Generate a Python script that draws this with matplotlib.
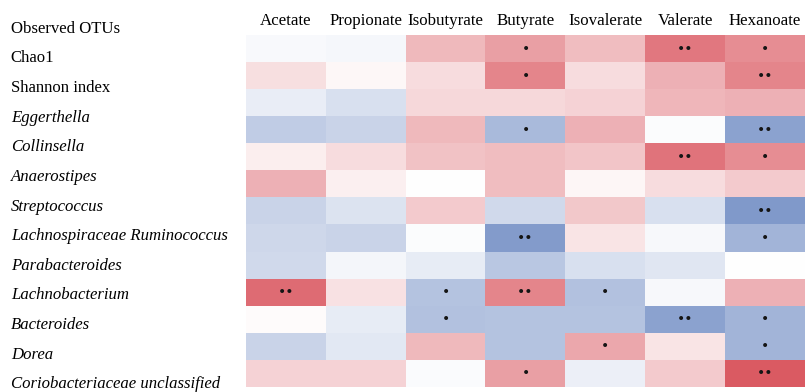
import numpy as np
import matplotlib
matplotlib.use("Agg")
import matplotlib.pyplot as plt
from matplotlib.colors import LinearSegmentedColormap

# acids across the top, OTU / taxa down the side
acids = ['Acetate', 'Propionate', 'Isobutyrate', 'Butyrate', 'Isovalerate', 'Valerate', 'Hexanoate']
taxa = ['Observed OTUs', 'Chao1', 'Shannon index', 'Eggerthella', 'Collinsella', 'Anaerostipes',
        'Streptococcus', 'Lachnospiraceae Ruminococcus', 'Parabacteroides', 'Lachnobacterium',
        'Bacteroides', 'Dorea', 'Coriobacteriaceae unclassified']
italic_rows = taxa[3:]

# correlation estimates, one list per row
r_observed = [-0.04, -0.06, 0.40, 0.55, 0.38, 0.78, 0.65]
r_chao1 = [0.18, 0.04, 0.20, 0.70, 0.20, 0.45, 0.70]
r_shannon = [-0.14, -0.25, 0.22, 0.22, 0.25, 0.42, 0.45]
r_egger = [-0.40, -0.35, 0.40, -0.55, 0.45, -0.02, -0.75]
r_collin = [0.10, 0.20, 0.35, 0.38, 0.33, 0.80, 0.65]
r_anaero = [0.45, 0.09, 0.00, 0.38, 0.05, 0.20, 0.30]
r_strepto = [-0.35, -0.22, 0.30, -0.30, 0.32, -0.25, -0.82]
r_lachno_rum = [-0.32, -0.35, -0.02, -0.80, 0.15, -0.05, -0.60]
r_parabac = [-0.30, -0.07, -0.15, -0.45, -0.25, -0.20, 0.00]
r_lachnobac = [0.85, 0.17, -0.48, 0.70, -0.50, -0.05, 0.45]
r_bacter = [0.02, -0.15, -0.50, -0.48, -0.48, -0.75, -0.60]
r_dorea = [-0.35, -0.18, 0.40, -0.48, 0.50, 0.15, -0.60]
r_corio = [0.25, 0.25, -0.03, 0.55, -0.12, 0.30, 0.95]

sig_observed = ['', '', '', '*', '', '**', '*']
sig_chao1 = ['', '', '', '*', '', '', '**']
sig_shannon = ['', '', '', '', '', '', '']
sig_egger = ['', '', '', '*', '', '', '**']
sig_collin = ['', '', '', '', '', '**', '*']
sig_anaero = ['', '', '', '', '', '', '']
sig_strepto = ['', '', '', '', '', '', '**']
sig_lachno_rum = ['', '', '', '**', '', '', '*']
sig_parabac = ['', '', '', '', '', '', '']
sig_lachnobac = ['**', '', '*', '**', '*', '', '']
sig_bacter = ['', '', '*', '', '', '**', '*']
sig_dorea = ['', '', '', '', '*', '', '*']
sig_corio = ['', '', '', '*', '', '', '**']

values = np.array([r_observed, r_chao1, r_shannon, r_egger, r_collin, r_anaero, r_strepto,
                   r_lachno_rum, r_parabac, r_lachnobac, r_bacter, r_dorea, r_corio])
stars = [sig_observed, sig_chao1, sig_shannon, sig_egger, sig_collin, sig_anaero, sig_strepto,
         sig_lachno_rum, sig_parabac, sig_lachnobac, sig_bacter, sig_dorea, sig_corio]

cmap = LinearSegmentedColormap.from_list('bwr_soft', ['#6583bf', '#ffffff', '#d9525b'])

W, H = 807, 392
fig = plt.figure(figsize=(W / 100, H / 100), dpi=100)
plt.rcParams['font.family'] = ['Liberation Serif', 'DejaVu Serif']

# heatmap axes, pixel box 246..805 x 35..387
ax = fig.add_axes([246 / W, 1 - 387 / H, (805 - 246) / W, (387 - 35) / H])
ax.imshow(values, cmap=cmap, vmin=-1, vmax=1, aspect='auto', interpolation='nearest')
for i in range(len(taxa)):
    for j in range(len(acids)):
        s = stars[i][j]
        if s:
            ax.text(j, i, '\u2022' * len(s), ha='center', va='center', fontsize=10,
                    color='#151515', family='DejaVu Sans')
ax.xaxis.tick_top()
ax.set_xticks(range(len(acids)))
ax.set_xticklabels(acids, fontsize=12.2)
ax.tick_params(axis='x', length=0, pad=4)
ax.set_yticks([])
for sp in ax.spines.values():
    sp.set_visible(False)

# row labels sit on their own spacing, slightly off the cell rows
lab = fig.add_axes([10 / W, 1 - 397 / H, 0.001, (397 - 12) / H])
lab.set_ylim(len(taxa) - 0.5, -0.5)
lab.yaxis.tick_right()
lab.set_yticks(range(len(taxa)))
lab.set_yticklabels(taxa, fontsize=12.1, ha='left')
for t, name in zip(lab.get_yticklabels(), taxa):
    if name in italic_rows:
        t.set_style('italic')
lab.tick_params(axis='y', length=0, pad=0)
lab.set_xticks([])
for sp in lab.spines.values():
    sp.set_visible(False)
lab.patch.set_visible(False)

fig.savefig('out.png', dpi=100)
